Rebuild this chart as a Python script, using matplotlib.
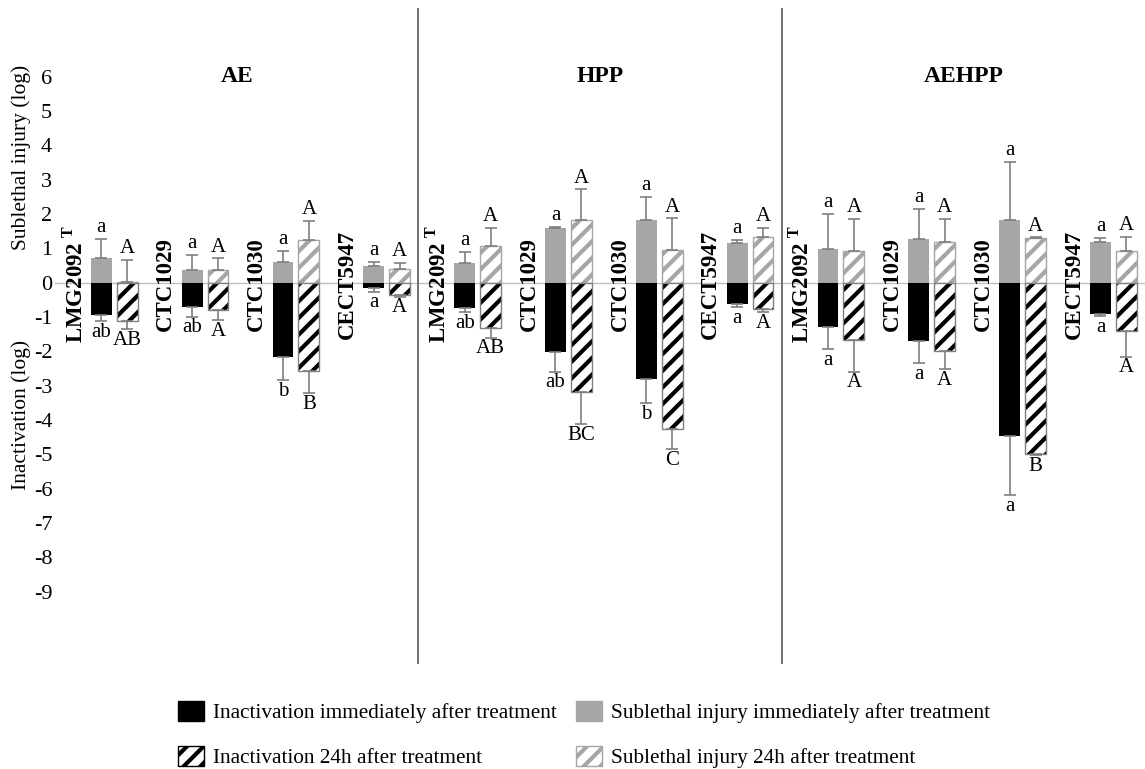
import numpy as np
import matplotlib
matplotlib.use('Agg')
import matplotlib.pyplot as plt
from matplotlib.patches import Patch

plt.rcParams['font.family'] = ['Liberation Serif', 'DejaVu Serif']
plt.rcParams['mathtext.fontset'] = 'custom'
plt.rcParams['mathtext.rm'] = 'Liberation Serif'
plt.rcParams['mathtext.bf'] = 'Liberation Serif:bold'
plt.rcParams['axes.unicode_minus'] = False
plt.rcParams['hatch.linewidth'] = 3.0

# Datos
treatments = ['AE', 'HPP', 'AEHPP']
strains = [r'LMG2092 $^{\mathbf{T}}$', 'CTC1029', 'CTC1030', 'CECT5947'] * 3

sub_imm = [0.73, 0.37, 0.61, 0.49, 0.57, 1.60, 1.83, 1.15, 0.98, 1.27, 1.83, 1.17]
sub_imm_err = [0.54, 0.44, 0.31, 0.12, 0.33, 0.02, 0.66, 0.10, 1.02, 0.87, 1.68, 0.13]
sub_24 = [0.03, 0.37, 1.24, 0.41, 1.08, 1.81, 0.96, 1.34, 0.92, 1.18, 1.30, 0.92]
sub_24_err = [0.63, 0.34, 0.56, 0.17, 0.51, 0.91, 0.91, 0.26, 0.94, 0.68, 0.02, 0.41]
inact_imm = [-0.94, -0.70, -2.16, -0.16, -0.75, -2.03, -2.82, -0.63, -1.30, -1.69, -4.46, -0.92]
inact_imm_err = [0.18, 0.29, 0.68, 0.10, 0.12, 0.56, 0.70, 0.09, 0.64, 0.66, 1.73, 0.05]
inact_24 = [-1.13, -0.81, -2.57, -0.36, -1.31, -3.20, -4.27, -0.78, -1.67, -1.98, -5.00, -1.41]
inact_24_err = [0.23, 0.28, 0.66, 0.05, 0.29, 0.92, 0.58, 0.07, 0.92, 0.54, 0.03, 0.75]

let_sub_imm = ['a'] * 12
let_sub_24 = ['A'] * 12
let_inact_imm = ['ab', 'ab', 'b', 'a', 'ab', 'ab', 'b', 'a', 'a', 'a', 'a', 'a']
let_inact_24 = ['AB', 'A', 'B', 'A', 'AB', 'BC', 'C', 'A', 'A', 'A', 'B', 'A']

GRAY = '#a6a6a6'
ERR = '#7f7f7f'

fig = plt.figure(figsize=(11.45, 7.69), dpi=100)
ax = fig.add_axes([55 / 1145, 105 / 769, 1090 / 1145, 656 / 769])

k = np.arange(12)
x1 = k + 0.51
x2 = k + 0.795
w = 0.23

# barras
ax.bar(x1, sub_imm, w, color=GRAY, zorder=2)
ax.bar(x1, inact_imm, w, color='black', zorder=2)
ax.bar(x2, sub_24, w, color='white', edgecolor=GRAY, hatch='//', linewidth=1, zorder=2)
ax.bar(x2, inact_24, w, color='white', edgecolor='black', hatch='//', linewidth=0, zorder=2)
ax.bar(x2, inact_24, w, fill=False, edgecolor='#808080', linewidth=1, zorder=3)

# barras de error (una dirección)
zeros = np.zeros(12)
ekw = dict(fmt='none', ecolor=ERR, elinewidth=1.2, capsize=4, capthick=1.2, zorder=4)
ax.errorbar(x1, sub_imm, yerr=[zeros, sub_imm_err], **ekw)
ax.errorbar(x2, sub_24, yerr=[zeros, sub_24_err], **ekw)
ax.errorbar(x1, inact_imm, yerr=[inact_imm_err, zeros], **ekw)
ax.errorbar(x2, inact_24, yerr=[inact_24_err, zeros], **ekw)

# letras
for i in range(12):
    ax.text(x1[i], sub_imm[i] + sub_imm_err[i] + 0.05, let_sub_imm[i], ha='center', va='bottom', fontsize=15)
    ax.text(x2[i], sub_24[i] + sub_24_err[i] + 0.05, let_sub_24[i], ha='center', va='bottom', fontsize=15)
    ax.text(x1[i], inact_imm[i] - inact_imm_err[i] - 0.05, let_inact_imm[i], ha='center', va='top', fontsize=15)
    ax.text(x2[i], inact_24[i] - inact_24_err[i] - 0.05, let_inact_24[i], ha='center', va='top', fontsize=15)
    ax.text(k[i] + 0.22, -0.05, strains[i], rotation=90, ha='center', va='center',
            fontsize=16.5, fontweight='bold')

for j, t in enumerate(treatments):
    ax.text(4 * j + 2, 6, t, ha='center', va='center', fontsize=17, fontweight='bold')

ax.axhline(0, color='#bfbfbf', lw=1, zorder=1)
ax.axvline(4, color='#595959', lw=1.2)
ax.axvline(8, color='#595959', lw=1.2)

ax.set_xlim(0, 12)
ax.set_ylim(-11.11, 8.0)
ax.set_xticks([])
ax.set_yticks(range(-9, 7))
ax.tick_params(axis='y', length=0, pad=2, labelsize=16)
for s in ax.spines.values():
    s.set_visible(False)

fig.text(21 / 1145, 1 - 157 / 769, 'Sublethal injury (log)', rotation=90, ha='center', va='center', fontsize=15.5)
fig.text(21 / 1145, 1 - 415 / 769, 'Inactivation (log)', rotation=90, ha='center', va='center', fontsize=15.5)

handles = [
    Patch(facecolor='black', edgecolor='black'),
    Patch(facecolor='white', edgecolor='black', hatch='//'),
    Patch(facecolor=GRAY, edgecolor=GRAY),
    Patch(facecolor='white', edgecolor=GRAY, hatch='//'),
]
labels = ['Inactivation immediately after treatment', 'Inactivation 24h after treatment',
          'Sublethal injury immediately after treatment', 'Sublethal injury 24h after treatment']
fig.legend(handles, labels, ncol=2, loc='upper left', bbox_to_anchor=(178 / 1145, 1 - 701 / 769),
           frameon=False, fontsize=15.3, handlelength=1.2, handleheight=1.1, handletextpad=0.45,
           columnspacing=0.9, labelspacing=1.05, borderpad=0, borderaxespad=0)

fig.savefig('out.png', dpi=100)
